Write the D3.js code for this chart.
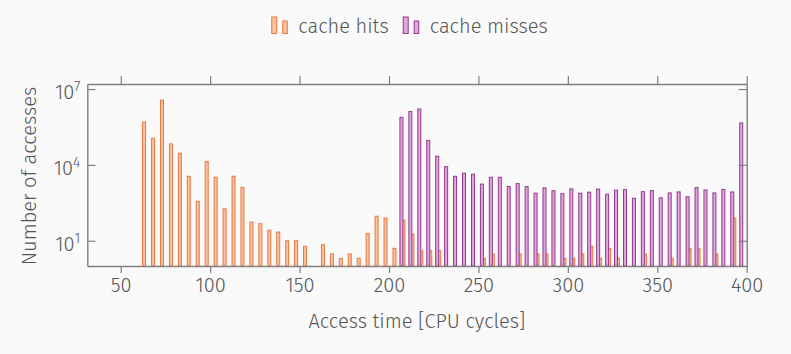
<!DOCTYPE html>
<html>
<head>
<meta charset="utf-8">
<script src="https://cdn.jsdelivr.net/npm/d3@7"></script>
<style>
  html, body { margin: 0; padding: 0; background: #fafafa; }
  svg { display: block; }
  text { font-family: "Fira Sans", Lato, "Open Sans", sans-serif; fill: #555; font-weight: 300; }
</style>
</head>
<body>
<svg id="chart" width="791" height="354"></svg>
<script>
// ---- data ----
const binCenters = [62.5, 67.5, 72.5, 77.5, 82.5, 87.5, 92.5, 97.5, 102.5, 107.5,
  112.5, 117.5, 122.5, 127.5, 132.5, 137.5, 142.5, 147.5, 152.5, 157.5,
  162.5, 167.5, 172.5, 177.5, 182.5, 187.5, 192.5, 197.5, 202.5, 207.5,
  212.5, 217.5, 222.5, 227.5, 232.5, 237.5, 242.5, 247.5, 252.5, 257.5,
  262.5, 267.5, 272.5, 277.5, 282.5, 287.5, 292.5, 297.5, 302.5, 307.5,
  312.5, 317.5, 322.5, 327.5, 332.5, 337.5, 342.5, 347.5, 352.5, 357.5,
  362.5, 367.5, 372.5, 377.5, 382.5, 387.5, 392.5, 397.5];

const cacheHits = [490000, 112000, 3630000, 67600, 28800, 3550, 363, 13500, 3240, 182,
  3550, 1290, 55, 47, 26, 22, 10, 10, 6, 0,
  7, 3, 2, 3, 2, 19, 93, 79, 5, 66,
  18, 4, 4, 4, 0, 0, 0, 0, 2, 3,
  0, 0, 3, 0, 3, 3, 0, 2, 2, 3,
  6, 2, 5, 2, 0, 0, 3, 0, 0, 2,
  0, 5, 5, 0, 3, 0, 78, 0];

const cacheMisses = [0, 0, 0, 0, 0, 0, 0, 0, 0, 0,
  0, 0, 0, 0, 0, 0, 0, 0, 0, 0,
  0, 0, 0, 0, 0, 0, 0, 0, 0, 759000,
  1290000, 1620000, 93300, 21900, 8510, 3550, 4680, 4270, 1740, 3240,
  3240, 1400, 1820, 1380, 760, 1230, 955, 724, 1120, 760,
  832, 1100, 692, 1000, 1050, 479, 871, 955, 501, 776,
  851, 550, 1260, 1020, 776, 1070, 851, 457000];

const xTicks = [50, 100, 150, 200, 250, 300, 350, 400];
const yTicks = [10, 10000, 10000000];
const yTickExponents = ["1", "4", "7"];
const seriesNames = ["cache hits", "cache misses"];
const xDomain = [31.3, 400];
const yDomain = [1, Math.pow(10, 7.2)];

// ---- styles / layout ----
const colors = {
  hits: { fill: "#fcc3a0", stroke: "#e8773f" },
  misses: { fill: "#deaad9", stroke: "#94378d" }
};
const axisColor = "#7f7f7f";
const plot = { left: 87.3, right: 746.7, top: 84, bottom: 266 };

const svg = d3.select("#chart");
svg.append("rect").attr("width", 791).attr("height", 354).attr("fill", "#fafafa");

const x = d3.scaleLinear().domain(xDomain).range([plot.left, plot.right]);
const y = d3.scaleLog().domain(yDomain).range([plot.bottom, plot.top]);

const barW = 3; // inner width, stroke 1 -> outer 4

function drawBars(values, col, shift) {
  const data = binCenters.map((c, i) => ({ c, v: values[i] })).filter(d => d.v > 1);
  svg.append("g").selectAll("rect").data(data).join("rect")
    .attr("x", d => x(d.c) + shift - barW / 2)
    .attr("y", d => y(d.v))
    .attr("width", barW)
    .attr("height", d => y(1) - y(d.v))
    .attr("fill", col.fill)
    .attr("stroke", col.stroke)
    .attr("stroke-width", 1);
}
drawBars(cacheHits, colors.hits, 1);
drawBars(cacheMisses, colors.misses, -1);

// axes: bottom (ticks outside), top mirrored
const xAxisB = d3.axisBottom(x).tickValues(xTicks).tickSize(7).tickSizeOuter(0).tickPadding(5);
const gxb = svg.append("g").attr("transform", `translate(0,${plot.bottom})`).call(xAxisB);
const xAxisT = d3.axisTop(x).tickValues(xTicks).tickSize(8).tickSizeOuter(0).tickFormat("");
const gxt = svg.append("g").attr("transform", `translate(0,${plot.top})`).call(xAxisT);

// y axes: ticks inside
const yAxisL = d3.axisLeft(y).tickValues(yTicks).tickSize(-8).tickSizeOuter(0).tickFormat("");
const gyl = svg.append("g").attr("transform", `translate(${plot.left},0)`).call(yAxisL);
const yAxisR = d3.axisRight(y).tickValues(yTicks).tickSize(-8).tickSizeOuter(0).tickFormat("");
const gyr = svg.append("g").attr("transform", `translate(${plot.right},0)`).call(yAxisR);

[gxb, gxt, gyl, gyr].forEach(g => {
  g.select(".domain").attr("stroke", axisColor).attr("stroke-width", 1.4);
  g.selectAll(".tick line").attr("stroke", axisColor).attr("stroke-width", 1.2);
});
gxb.selectAll(".tick text")
  .attr("font-size", 20).attr("fill", "#555")
  .style("font-family", '"Fira Sans", Lato, "Open Sans", sans-serif')
  .style("font-weight", 300);

// y tick labels 10^n
yTicks.forEach((t, i) => {
  const tx = svg.append("text")
    .attr("x", plot.left - 7)
    .attr("y", y(t) + 10)
    .attr("text-anchor", "end")
    .attr("font-size", 20);
  tx.append("tspan").text("10");
  tx.append("tspan").attr("dy", -8).attr("font-size", 14).text(yTickExponents[i]);
});

// axis labels
svg.append("text")
  .attr("x", (plot.left + plot.right) / 2)
  .attr("y", 328)
  .attr("text-anchor", "middle")
  .attr("font-size", 20)
  .text("Access time [CPU cycles]");

svg.append("text")
  .attr("transform", `translate(36,${(plot.top + plot.bottom) / 2 + 1}) rotate(-90)`)
  .attr("text-anchor", "middle")
  .attr("font-size", 20)
  .text("Number of accesses");

// legend
const legend = svg.append("g");
const legendCols = [colors.hits, colors.misses];
let cx = 0;
seriesNames.forEach((name, i) => {
  const g = legend.append("g").attr("transform", `translate(${cx},0)`);
  const col = legendCols[i];
  g.append("rect").attr("x", 0.5).attr("y", 17).attr("width", 5).attr("height", 16.5)
    .attr("fill", col.fill).attr("stroke", col.stroke).attr("stroke-width", 1);
  g.append("rect").attr("x", 11.5).attr("y", 21).attr("width", 4.5).attr("height", 12.5)
    .attr("fill", col.fill).attr("stroke", col.stroke).attr("stroke-width", 1);
  const t = g.append("text").attr("x", 27).attr("y", 33).attr("font-size", 20).text(name);
  const w = t.node().getComputedTextLength();
  cx += 27 + w + 14;
});
const legendW = cx - 14;
legend.attr("transform", `translate(${409.5 - legendW / 2},0)`);
</script>
</body>
</html>
